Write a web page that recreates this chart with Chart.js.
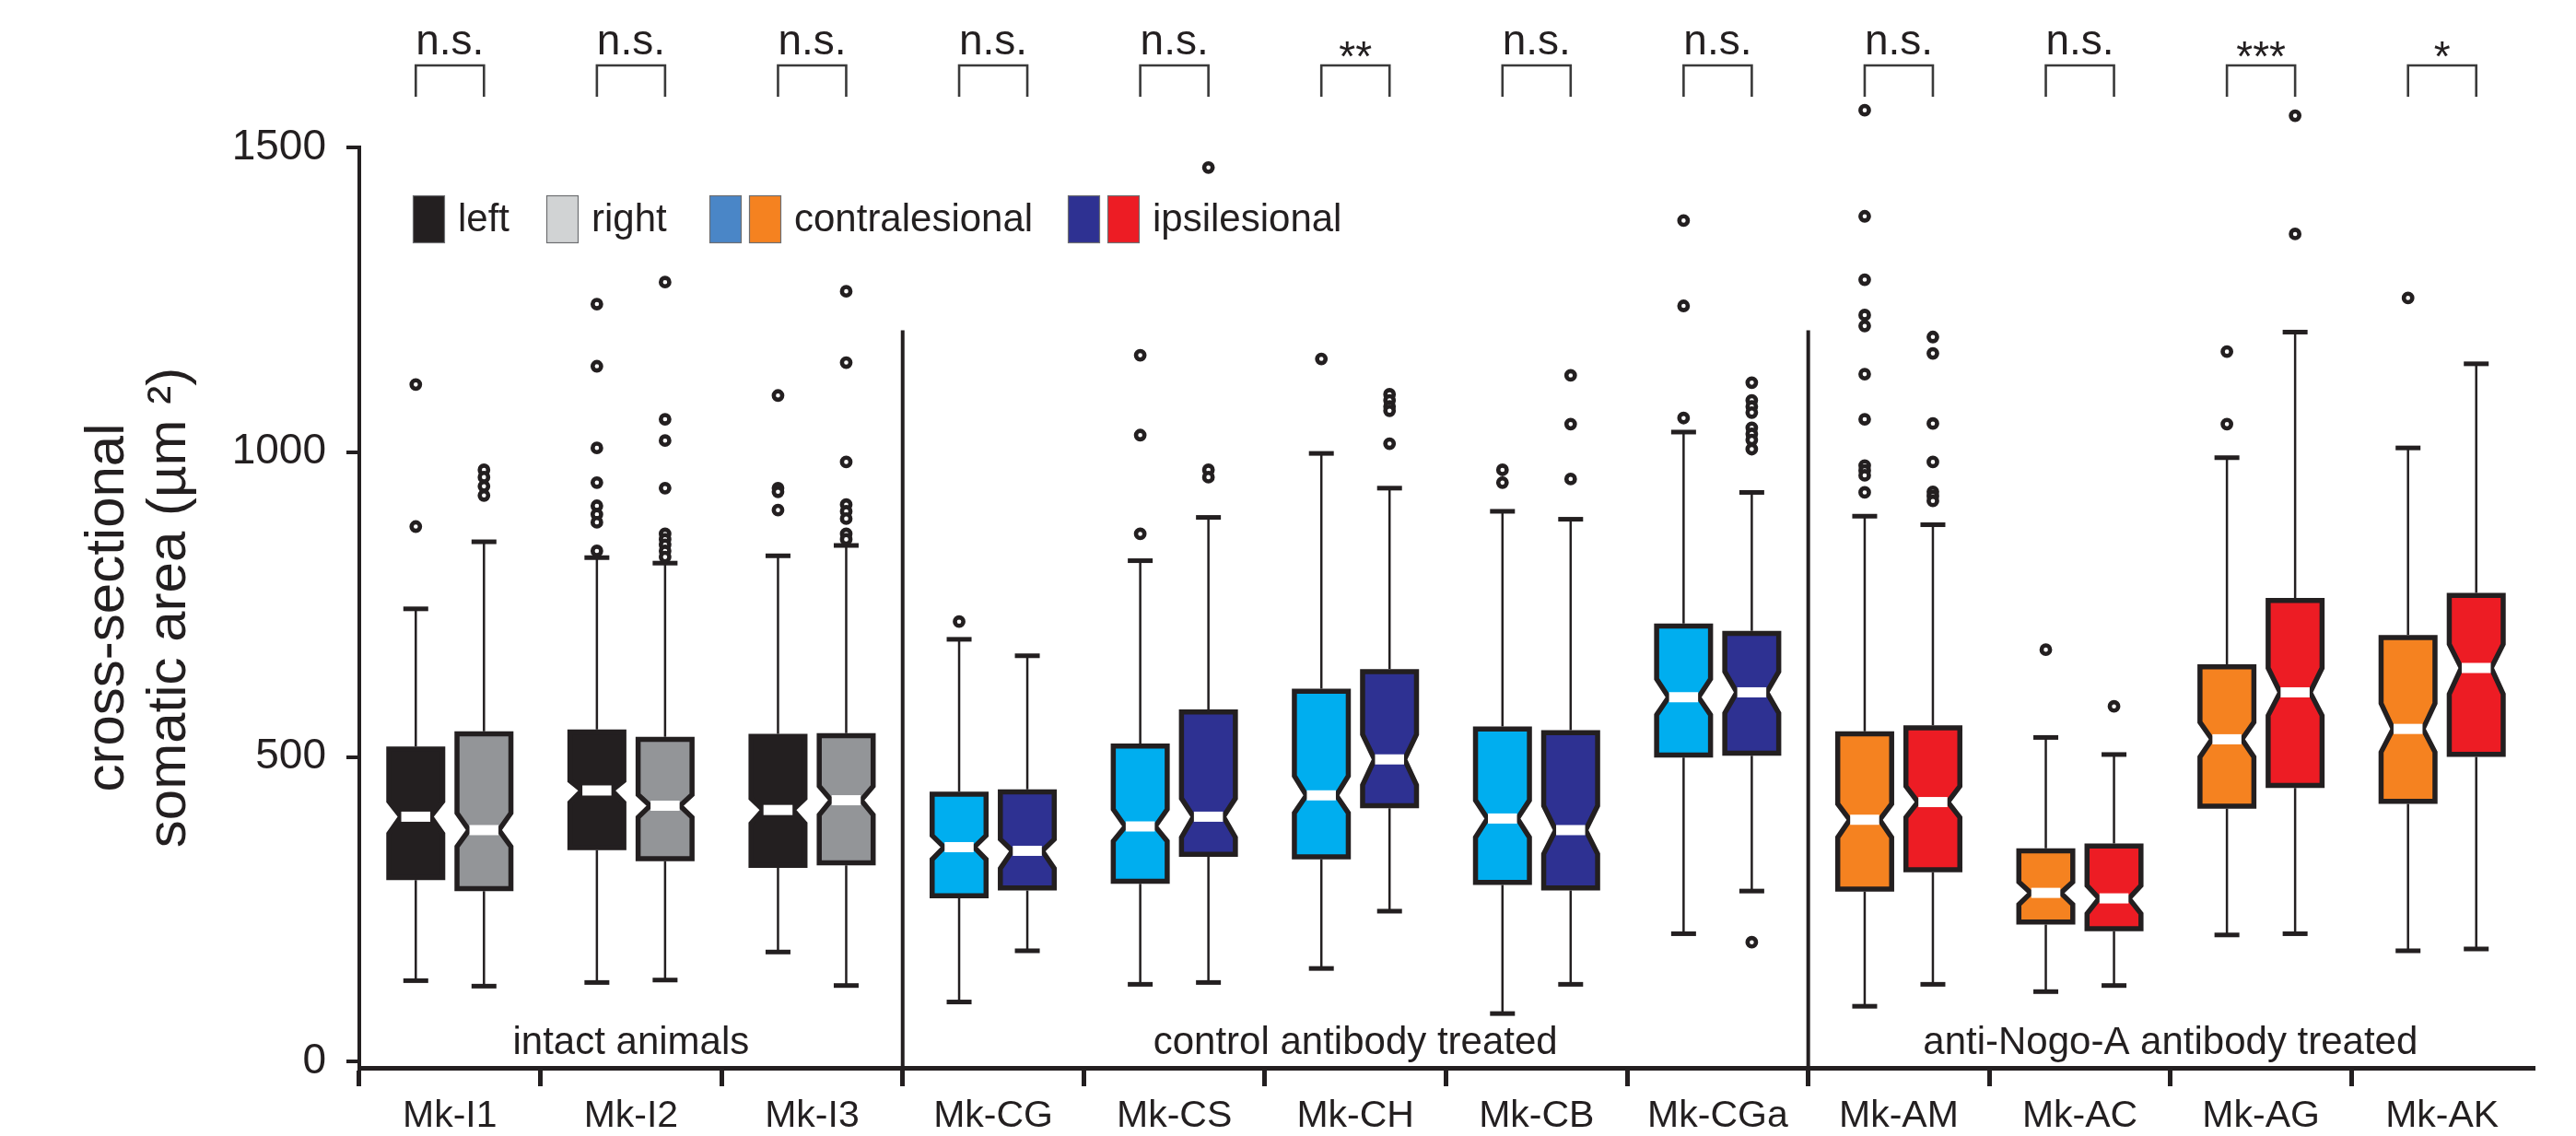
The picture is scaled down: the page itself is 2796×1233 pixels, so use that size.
<!DOCTYPE html>
<html><head><meta charset="utf-8">
<script src="https://cdn.jsdelivr.net/npm/chart.js@4.4.1/dist/chart.umd.min.js"></script>
<style>html,body{margin:0;padding:0;background:#fff;}canvas{display:block;}</style>
</head><body>
<canvas id="c" width="2796" height="1233"></canvas>
<script>
// ---------- DATA ----------
const groups = ['Mk-I1','Mk-I2','Mk-I3','Mk-CG','Mk-CS','Mk-CH','Mk-CB','Mk-CGa','Mk-AM','Mk-AC','Mk-AG','Mk-AK'];
const yTicks = [0, 500, 1000, 1500];
const significance = ['n.s.','n.s.','n.s.','n.s.','n.s.','**','n.s.','n.s.','n.s.','n.s.','***','*'];
const sectionLabels = ['intact animals','control antibody treated','anti-Nogo-A antibody treated'];
const sectionFirst = [0, 3, 8];
const sectionLast = [2, 7, 11];
const legendLabels = ['left','right','contralesional','ipsilesional'];

// first box of each pair (left / contralesional)
const whiskerLowA  = [133, 130, 180,  98, 127, 153,  79, 210,  91, 115, 208, 182];
const q1A          = [298, 347, 318, 268, 292, 332, 290, 499, 279, 225, 415, 423];
const notchLoA     = [374, 425, 391, 332, 362, 408, 368, 569, 368, 258, 500, 508];
const medianA      = [402, 445, 413, 352, 386, 437, 399, 598, 397, 277, 529, 546];
const notchHiA     = [427, 461, 432, 371, 414, 469, 429, 628, 423, 295, 557, 588];
const q3A          = [517, 545, 538, 443, 522, 612, 550, 719, 542, 350, 652, 700];
const whiskerHighA = [743, 827, 830, 693, 822, 998, 903,1033, 895, 532, 991,1007];
const outliersA = [
  [1111, 878],
  [1243, 1141, 1007, 950, 912, 898, 885, 838],
  [1093, 941, 935, 905],
  [722],
  [1159, 1028, 866],
  [1153],
  [971, 950],
  [1380, 1240, 1056],
  [1561, 1387, 1283, 1225, 1207, 1128, 1054, 978, 970, 962, 934],
  [676],
  [1165, 1046],
  [1253]
];

// second box of each pair (right / ipsilesional)
const whiskerLowB  = [124, 134, 125, 182, 130, 247, 127, 280, 127, 125, 210, 185];
const q1B          = [280, 329, 322, 281, 336, 416, 281, 502, 311, 214, 449, 500];
const notchLoB     = [353, 401, 405, 317, 368, 454, 341, 572, 401, 243, 568, 603];
const medianB      = [380, 420, 429, 346, 402, 496, 380, 606, 426, 268, 606, 646];
const notchHiB     = [408, 438, 452, 365, 432, 537, 420, 640, 452, 289, 646, 685];
const q3B          = [542, 533, 539, 447, 578, 644, 544, 707, 552, 358, 761, 769];
const whiskerHighB = [853, 818, 847, 666, 893, 941, 890, 934, 881, 504,1197,1145];
const outliersB = [
  [971, 959, 944, 929],
  [1279, 1054, 1019, 941, 866, 857, 848, 838, 828],
  [1264, 1147, 984, 914, 903, 891, 866, 857],
  [],
  [1467, 971, 959],
  [1095, 1085, 1075, 1068, 1014],
  [1126, 1046, 956],
  [1114, 1085, 1075, 1065, 1040, 1030, 1020, 1005, 196],
  [1189, 1162, 1047, 984, 935, 928, 920],
  [583],
  [1552, 1358],
  []
];

// ---------- STYLE ----------
const FONT = '"Liberation Sans", Arial, Helvetica, sans-serif';
const INK = '#231F20';
const sectionFillA = ['#231F20', '#00AEEF', '#F58220'];
const sectionFillB = ['#939598', '#2E3192', '#ED1C24'];
const legendSwatches = [['#231F20'], ['#D1D3D4'], ['#4A86C7', '#F58220'], ['#2E3192', '#ED1C24']];

function sectionOf(i) {
  for (let s = 0; s < sectionFirst.length; s++) if (i >= sectionFirst[s] && i <= sectionLast[s]) return s;
  return 0;
}

function drawBox(ctx, cx, w, yS, s, i, fill) {
  const bw = 5.5, half = w / 2 - bw / 2, ind = 13;
  const top = yS.getPixelForValue(s.q3[i]) + bw / 2;
  const bot = yS.getPixelForValue(s.q1[i]) - bw / 2;
  const ym = yS.getPixelForValue(s.med[i]);
  const yhi = yS.getPixelForValue(s.nhi[i]);
  const ylo = yS.getPixelForValue(s.nlo[i]);
  const L = cx - half, R = cx + half;
  ctx.beginPath();
  ctx.moveTo(L, top); ctx.lineTo(R, top); ctx.lineTo(R, yhi); ctx.lineTo(R - ind, ym);
  ctx.lineTo(R, ylo); ctx.lineTo(R, bot); ctx.lineTo(L, bot); ctx.lineTo(L, ylo);
  ctx.lineTo(L + ind, ym); ctx.lineTo(L, yhi); ctx.closePath();
  ctx.fillStyle = fill; ctx.fill();
  ctx.lineJoin = 'miter'; ctx.lineWidth = bw; ctx.strokeStyle = INK; ctx.stroke();
  const ww = 2 * (half - ind) - 1;
  ctx.fillStyle = '#ffffff';
  ctx.fillRect(cx - ww / 2, ym - 5.5, ww, 11);
}

const boxPlugin = {
  id: 'notchedBoxes',
  afterDatasetsDraw(chart) {
    const ctx = chart.ctx, yS = chart.scales.y, xS = chart.scales.x, area = chart.chartArea;
    const series = [
      {lo: whiskerLowA, q1: q1A, nlo: notchLoA, med: medianA, nhi: notchHiA, q3: q3A, hi: whiskerHighA, out: outliersA, fills: sectionFillA, meta: chart.getDatasetMeta(0)},
      {lo: whiskerLowB, q1: q1B, nlo: notchLoB, med: medianB, nhi: notchHiB, q3: q3B, hi: whiskerHighB, out: outliersB, fills: sectionFillB, meta: chart.getDatasetMeta(1)}
    ];
    ctx.save();
    // section dividers
    const catW = (xS.right - xS.left) / groups.length;
    ctx.strokeStyle = INK; ctx.lineWidth = 4;
    for (let s = 1; s < sectionFirst.length; s++) {
      const x = xS.getPixelForValue(sectionFirst[s]) - catW / 2;
      ctx.beginPath(); ctx.moveTo(x, yS.getPixelForValue(1200)); ctx.lineTo(x, area.bottom); ctx.stroke();
    }
    // whiskers
    series.forEach(s => s.meta.data.forEach((bar, i) => {
      const cx = bar.x;
      ctx.strokeStyle = INK; ctx.lineWidth = 2.5;
      ctx.beginPath();
      ctx.moveTo(cx, yS.getPixelForValue(s.q3[i])); ctx.lineTo(cx, yS.getPixelForValue(s.hi[i]));
      ctx.moveTo(cx, yS.getPixelForValue(s.q1[i])); ctx.lineTo(cx, yS.getPixelForValue(s.lo[i]));
      ctx.stroke();
      ctx.fillStyle = INK;
      ctx.fillRect(cx - 13.5, yS.getPixelForValue(s.hi[i]) - 2.5, 27, 5);
      ctx.fillRect(cx - 13.5, yS.getPixelForValue(s.lo[i]) - 2.5, 27, 5);
    }));
    // boxes
    series.forEach(s => s.meta.data.forEach((bar, i) => {
      drawBox(ctx, bar.x, bar.width, yS, s, i, s.fills[sectionOf(i)]);
    }));
    // outliers
    series.forEach(s => s.meta.data.forEach((bar, i) => {
      s.out[i].forEach(v => {
        ctx.beginPath(); ctx.arc(bar.x, yS.getPixelForValue(v), 4.6, 0, Math.PI * 2);
        ctx.fillStyle = '#fff'; ctx.fill();
        ctx.lineWidth = 4.6; ctx.strokeStyle = INK; ctx.stroke();
      });
    }));
    // significance brackets
    const mA = series[0].meta.data, mB = series[1].meta.data;
    ctx.strokeStyle = '#3a3a3a'; ctx.lineWidth = 2.6; ctx.lineJoin = 'miter';
    ctx.fillStyle = INK; ctx.textAlign = 'center'; ctx.textBaseline = 'alphabetic';
    ctx.font = '46px ' + FONT;
    groups.forEach((g, i) => {
      const x1 = mA[i].x, x2 = mB[i].x, yb = area.top - 89;
      ctx.beginPath(); ctx.moveTo(x1, area.top - 55); ctx.lineTo(x1, yb); ctx.lineTo(x2, yb); ctx.lineTo(x2, area.top - 55); ctx.stroke();
      const txt = significance[i];
      const base = txt.indexOf('*') >= 0 ? area.top - 83 : area.top - 101;
      ctx.fillText(txt, (x1 + x2) / 2, base);
    });
    // section labels
    ctx.font = '42px ' + FONT;
    sectionLabels.forEach((lab, s) => {
      const xa = xS.getPixelForValue(sectionFirst[s]) - catW / 2;
      const xb = xS.getPixelForValue(sectionLast[s]) + catW / 2;
      ctx.fillText(lab, (xa + xb) / 2, area.bottom - 15);
    });
    // legend
    const lx = area.left, ly = area.top + 52;
    const swW = 35, swH = 52, gap = 8;
    const starts = [58, 203, 380, 769];
    ctx.textAlign = 'left';
    legendLabels.forEach((lab, k) => {
      let x = lx + starts[k];
      legendSwatches[k].forEach(col => {
        ctx.fillStyle = col; ctx.fillRect(x, ly, swW, swH);
        ctx.lineWidth = 1.2; ctx.strokeStyle = '#6D6E71'; ctx.strokeRect(x + 0.5, ly + 0.5, swW - 1, swH - 1);
        x += swW + gap;
      });
      ctx.fillStyle = INK;
      ctx.fillText(lab, x + 6, ly + 39);
    });
    ctx.restore();
  }
};

new Chart(document.getElementById('c'), {
  type: 'bar',
  data: {
    labels: groups,
    datasets: [
      {label: 'left / contralesional', data: groups.map((g, i) => [q1A[i], q3A[i]]), backgroundColor: 'rgba(0,0,0,0)', borderWidth: 0, categoryPercentage: 0.753, barPercentage: 0.865},
      {label: 'right / ipsilesional', data: groups.map((g, i) => [q1B[i], q3B[i]]), backgroundColor: 'rgba(0,0,0,0)', borderWidth: 0, categoryPercentage: 0.753, barPercentage: 0.865}
    ]
  },
  options: {
    responsive: false,
    animation: false,
    devicePixelRatio: 1,
    layout: {padding: {left: 0, right: 47, top: 160, bottom: 0}},
    plugins: {legend: {display: false}, tooltip: {enabled: false}},
    scales: {
      x: {
        offset: true,
        grid: {offset: true, drawOnChartArea: false, tickLength: 20, lineWidth: 5,
               color: c => (c.type === 'tick' ? INK : 'rgba(0,0,0,0)')},
        border: {display: true, color: INK, width: 5},
        ticks: {color: INK, font: {family: FONT, size: 41}, padding: 8, maxRotation: 0, autoSkip: false},
        afterFit: s => { s.height = 74; }
      },
      y: {
        min: -10, max: 1500,
        afterBuildTicks: s => { s.ticks = yTicks.map(v => ({value: v})); },
        grid: {drawOnChartArea: false, tickLength: 14, lineWidth: 4, color: INK},
        border: {display: true, color: INK, width: 4},
        ticks: {color: INK, font: {family: FONT, size: 46}, padding: 22, callback: v => String(v)},
        title: {display: true, text: ['cross-sectional', 'somatic area (µm ²)'], color: INK,
                font: {family: FONT, size: 60, lineHeight: 1.117}, padding: {top: 84, bottom: 0}},
        afterFit: s => { s.width = 390; }
      }
    }
  },
  plugins: [boxPlugin]
});
</script>
</body></html>
